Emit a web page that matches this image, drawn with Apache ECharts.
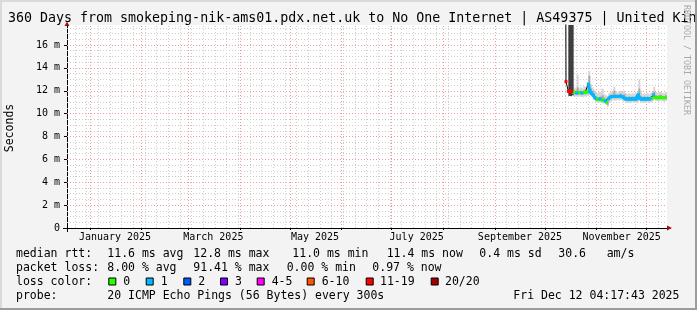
<!DOCTYPE html>
<html><head><meta charset="utf-8">
<script src="https://cdn.jsdelivr.net/npm/echarts@6/dist/echarts.min.js"></script>
<style>html,body{margin:0;padding:0;background:#f3f3f3}#c{width:697px;height:310px}</style>
</head><body><div id="c"></div>
<script>
// x values are days since 2025-01-01 (UTC)
const xMin = -13.8, xMax = 346.2;
const yMax = 17.75;
const monthStartDays = [0, 31, 59, 90, 120, 151, 181, 212, 243, 273, 304, 334];
const monthLabelDays = [15, 74, 135, 196, 258, 319];
const monthLabelNames = ['January 2025', 'March 2025', 'May 2025', 'July 2025', 'September 2025', 'November 2025'];
const yTickValues = [0, 2, 4, 6, 8, 10, 12, 14, 16];
const yTickLabels = ['0', '2 m', '4 m', '6 m', '8 m', '10 m', '12 m', '14 m', '16 m'];

// median rtt (ms) and loss colour index (-1 = no colour)
const medianDays = [285.3, 285.6, 286.3, 287, 288, 289, 290, 291, 292, 293, 294, 295, 296, 297, 298, 299, 300, 301, 302, 303, 304, 305, 306, 307, 308, 309, 310, 311, 312, 313, 314, 315, 316, 317, 318, 319, 320, 321, 322, 323, 324, 325, 326, 327, 328, 329, 330, 331, 332, 333, 334, 335, 336, 337, 338, 339, 340, 341, 342, 343, 344, 345];
const medianMs = [30, 12.8, 12.8, 11.95, 12.0, 11.9, 11.85, 11.85, 11.8, 11.85, 11.85, 11.8, 11.85, 11.85, 11.9, 12.6, 11.9, 11.8, 11.6, 11.35, 11.25, 11.25, 11.3, 11.2, 11.2, 11.1, 11.0, 11.3, 11.45, 11.5, 11.5, 11.5, 11.5, 11.5, 11.55, 11.5, 11.45, 11.3, 11.28, 11.28, 11.28, 11.3, 11.28, 11.28, 11.3, 11.65, 11.3, 11.28, 11.28, 11.28, 11.3, 11.28, 11.3, 11.35, 11.65, 11.4, 11.4, 11.4, 11.45, 11.4, 11.4, 11.4];
const medianLoss = [-1, 6, -1, 6, 6, 6, 0, 0, 1, 0, 0, 1, 0, 0, 0, 1, 1, 1, 1, 1, 0, 0, 1, 0, 0, 1, 0, 1, 1, 1, 1, 1, 1, 1, 1, 1, 1, 1, 1, 1, 1, 1, 1, 1, 1, 1, 1, 1, 1, 1, 1, 1, 1, 0, 1, 0, 0, 0, 0, 0, 0, 0];

// smoke (ping spread) per day
const smokeDays = [290, 291, 292, 293, 294, 295, 296, 297, 298, 299, 300, 301, 302, 303, 304, 305, 306, 307, 308, 309, 310, 311, 312, 313, 314, 315, 316, 317, 318, 319, 320, 321, 322, 323, 324, 325, 326, 327, 328, 329, 330, 331, 332, 333, 334, 335, 336, 337, 338, 339, 340, 341, 342, 343, 344, 345];
const smokeOuterLo = [11.5, 11.5, 11.45, 11.5, 11.5, 11.45, 11.5, 11.5, 11.55, 11.6, 11.55, 11.45, 11.3, 11.05, 10.95, 10.95, 11.0, 10.9, 10.9, 10.8, 10.6, 10.95, 11.1, 11.15, 11.15, 11.15, 11.2, 11.15, 11.2, 11.15, 11.1, 11.0, 10.95, 10.95, 10.95, 11.0, 10.95, 10.95, 11.0, 11.25, 11.0, 10.95, 10.95, 10.95, 11.0, 10.95, 11.0, 11.05, 11.3, 11.1, 11.1, 11.1, 11.1, 11.1, 11.05, 11.1];
const smokeOuterHi = [12.3, 12.2, 13.4, 12.2, 12.3, 12.2, 12.4, 12.3, 12.5, 13.7, 12.6, 12.3, 12.1, 11.9, 11.8, 11.9, 11.8, 12.2, 11.7, 11.6, 11.5, 11.8, 11.9, 12.0, 12.35, 12.0, 11.9, 11.9, 12.0, 11.9, 12.0, 11.8, 11.7, 11.8, 11.7, 11.8, 11.7, 11.8, 11.9, 13.0, 12.0, 11.7, 11.8, 11.7, 11.8, 11.7, 11.8, 11.9, 12.35, 11.9, 11.8, 11.9, 11.9, 11.8, 11.8, 11.9];
const smokeInnerLo = [11.7, 11.7, 11.65, 11.7, 11.7, 11.65, 11.7, 11.7, 11.75, 11.9, 11.75, 11.65, 11.45, 11.2, 11.1, 11.1, 11.15, 11.05, 11.05, 10.95, 10.75, 11.15, 11.3, 11.35, 11.35, 11.35, 11.35, 11.35, 11.4, 11.35, 11.3, 11.15, 11.1, 11.1, 11.1, 11.15, 11.1, 11.1, 11.15, 11.45, 11.15, 11.1, 11.1, 11.1, 11.15, 11.1, 11.15, 11.2, 11.45, 11.25, 11.25, 11.25, 11.3, 11.25, 11.25, 11.25];
const smokeInnerHi = [12.0, 12.0, 12.3, 12.0, 12.0, 11.95, 12.05, 12.0, 12.1, 13.3, 12.2, 12.0, 11.8, 11.55, 11.45, 11.45, 11.5, 11.6, 11.4, 11.3, 11.15, 11.5, 11.65, 11.7, 12.0, 11.7, 11.65, 11.65, 11.75, 11.65, 11.7, 11.5, 11.45, 11.5, 11.45, 11.5, 11.45, 11.5, 11.55, 12.2, 11.55, 11.45, 11.5, 11.45, 11.5, 11.45, 11.5, 11.55, 11.95, 11.6, 11.55, 11.6, 11.65, 11.55, 11.55, 11.6];
// very wide spread while loss was high
const heavySmokeDays = [287, 288, 289];
const heavySmokeLo = [11.55, 11.55, 11.6];
const heavySmokeHi = [30, 30, 30];

const lossLabels = ['0', '1', '2', '3', '4-5', '6-10', '11-19', '20/20'];
const lossColors = ['#26ff00', '#00b8ff', '#0059ff', '#7e00ff', '#ff00ff', '#ff5500', '#ff0000', '#a10000'];

const titleText = '360 Days from smokeping-nik-ams01.pdx.net.uk to No One Internet | AS49375 | United Kingdom';
const statsRtt = ['median rtt:', '11.6 ms avg', '12.8 ms max', '11.0 ms min', '11.4 ms now', '0.4 ms sd', '30.6', 'am/s'];
const statsLoss = ['packet loss:', '8.00 % avg', '91.41 % max', '0.00 % min', '0.97 % now'];
const probeText = ['probe:', '20 ICMP Echo Pings (56 Bytes) every 300s', 'Fri Dec 12 04:17:43 2025'];

// ---- layout ----
const mono = '"DejaVu Sans Mono", monospace';
const rttX = [16, 107.3, 193.3, 292.3, 386.7, 479.3, 558.3, 606.7];
const lossX = [16, 107.3, 193.3, 286.7, 372.3];
const probeX = [16, 107.3, 513.3];
const boxX = [108.3, 145.7, 183.3, 220, 256.7, 306.7, 365.7, 430.7];
const boxLabelX = [123.3, 160.7, 198.3, 235, 271.7, 321.7, 380, 445];
const rowY = [254, 268, 282, 296.5];

const weekDays = []; for (let d = -9; d <= xMax; d += 7) weekDays.push(d);
const minorY = []; for (let v = 0.5; v < yMax; v += 0.5) if (Math.abs(v % 2) > 1e-9) minorY.push(v);
const majorY = yTickValues.filter(v => v > 0);

function smokeRender(color) {
  return function (params, api) {
    const d = api.value(0), lo = api.value(1), hi = Math.min(api.value(2), yMax);
    const p1 = api.coord([d, hi]);
    const p2 = api.coord([d + 1, lo]);
    return { type: 'rect', shape: { x: p1[0], y: p1[1], width: p2[0] - p1[0] + 0.3, height: p2[1] - p1[1] }, style: { fill: color } };
  };
}
function smokeSeries(days, lo, hi, color, z) {
  return {
    type: 'custom', z: z, silent: true, animation: false,
    renderItem: smokeRender(color), encode: { x: 0, y: [1, 2] },
    data: days.map((d, i) => [d, lo[i], hi[i]])
  };
}

const gridLine = (color, type, data, z) => ({
  type: 'line', data: [], z: z, silent: true, animation: false,
  markLine: {
    z: z, silent: true, animation: false, symbol: ['none', 'none'], label: { show: false },
    emphasis: { disabled: true }, lineStyle: { color: color, type: type, width: 1 }, data: data
  }
});

const series = [
  gridLine('#cdcdcd', [1, 2], [...weekDays.map(d => ({ xAxis: d })), ...minorY.map(v => ({ yAxis: v }))], 1),
  gridLine('#f29c9c', [1, 2], [...monthStartDays.map(d => ({ xAxis: d })), ...majorY.map(v => ({ yAxis: v }))], 1),
  smokeSeries(smokeDays, smokeOuterLo, smokeOuterHi, '#d6d6d6', 2),
  smokeSeries(smokeDays, smokeInnerLo, smokeInnerHi, '#a9a9a9', 2),
  smokeSeries(heavySmokeDays, heavySmokeLo, heavySmokeHi, '#3d3d3d', 2),
  {
    type: 'line', z: 3, silent: true, animation: false, showSymbol: false,
    lineStyle: { color: '#000', width: 1 },
    data: medianDays.map((d, i) => [d, medianMs[i]])
  }
];
lossColors.forEach((c, k) => {
  if (!medianLoss.includes(k)) return;
  series.push({
    type: 'line', z: 4, silent: true, animation: false,
    showSymbol: true, symbol: 'rect', symbolSize: [3, 3],
    itemStyle: { color: c, borderWidth: 0 },
    lineStyle: { color: c, width: 3 },
    data: medianDays.map((d, i) => [d, medianLoss[i] === k ? medianMs[i] : '-'])
  });
});

const chart = echarts.init(document.getElementById('c'), null, { renderer: 'canvas' });
chart.setOption({
  backgroundColor: '#f3f3f3',
  animation: false,
  grid: { left: 67, top: 25, width: 600, height: 203, show: true, backgroundColor: '#ffffff', borderWidth: 0 },
  xAxis: {
    type: 'value', min: xMin, max: xMax,
    axisLine: { show: true, onZero: false, lineStyle: { color: '#000', width: 1 } },
    axisTick: { show: true, length: 2, customValues: monthStartDays, lineStyle: { color: '#000' } },
    axisLabel: {
      customValues: monthLabelDays, margin: 4, color: '#000', fontFamily: mono, fontSize: 10,
      formatter: v => { const i = monthLabelDays.indexOf(v); return i >= 0 ? monthLabelNames[i] : ''; }
    },
    splitLine: { show: false }
  },
  yAxis: {
    type: 'value', min: 0, max: yMax, interval: 2,
    axisLine: { show: true, onZero: false, lineStyle: { color: '#000', width: 1 } },
    axisTick: { show: true, length: 3, customValues: yTickValues, lineStyle: { color: '#000' } },
    axisLabel: {
      customValues: yTickValues, margin: 7, color: '#000', fontFamily: mono, fontSize: 10,
      formatter: v => { const i = yTickValues.indexOf(v); return i >= 0 ? yTickLabels[i] : ''; }
    },
    splitLine: { show: false }
  },
  series: series
});

// decorations
const origin = chart.convertToPixel({ gridIndex: 0 }, [xMin, 0]);
const corner = chart.convertToPixel({ gridIndex: 0 }, [xMax, yMax]);
const arrowColor = '#9b1010';
const textEl = (text, x, y, size, extra) => ({
  type: 'text', x: x, y: y, z: 50, silent: true,
  style: Object.assign({ text: text, fill: '#000', font: size + 'px ' + mono, verticalAlign: 'middle', align: 'left' }, extra || {})
});
const g = [];
g.push(textEl(titleText, 8, 18.5, 13.3));
g.push(Object.assign(textEl('Seconds', 10.5, 128, 11.5, { align: 'center' }), { rotation: Math.PI / 2 }));
g.push(Object.assign(textEl('RRDTOOL / TOBI OETIKER', 686.5, 60, 8.3, { align: 'center', fill: '#a8a8a8' }), { rotation: -Math.PI / 2 }));
statsRtt.forEach((t, i) => g.push(textEl(t, rttX[i], rowY[0], 11.5)));
statsLoss.forEach((t, i) => g.push(textEl(t, lossX[i], rowY[1], 11.5)));
g.push(textEl('loss color:', 16, rowY[2], 11.5));
lossLabels.forEach((t, i) => {
  g.push({ type: 'rect', z: 50, silent: true, shape: { x: boxX[i] + 0.5, y: rowY[2] - 4, width: 7, height: 7 }, style: { fill: lossColors[i], stroke: '#000', lineWidth: 1 } });
  g.push(textEl(t, boxLabelX[i], rowY[2], 11.5));
});
probeText.forEach((t, i) => g.push(textEl(t, probeX[i], rowY[3], 11.5)));
// axis stubs beyond origin and arrows
g.push({ type: 'line', z: 60, silent: true, shape: { x1: origin[0] - 4, y1: origin[1] + 0.5, x2: origin[0], y2: origin[1] + 0.5 }, style: { stroke: '#000', lineWidth: 1 } });
g.push({ type: 'line', z: 60, silent: true, shape: { x1: origin[0] + 0.5, y1: origin[1], x2: origin[0] + 0.5, y2: origin[1] + 4 }, style: { stroke: '#000', lineWidth: 1 } });
g.push({ type: 'polygon', z: 60, silent: true, shape: { points: [[corner[0], origin[1] - 2.5], [corner[0] + 5, origin[1]], [corner[0], origin[1] + 2.5]] }, style: { fill: arrowColor } });
g.push({ type: 'polygon', z: 60, silent: true, shape: { points: [[origin[0] - 2.5, corner[1] + 1], [origin[0], corner[1] - 3.5], [origin[0] + 2.5, corner[1] + 1]] }, style: { fill: arrowColor } });
// frame
g.push({ type: 'rect', z: 100, silent: true, shape: { x: 0, y: 0, width: 697, height: 2 }, style: { fill: '#dadada' } });
g.push({ type: 'rect', z: 100, silent: true, shape: { x: 0, y: 0, width: 2, height: 310 }, style: { fill: '#dadada' } });
g.push({ type: 'rect', z: 100, silent: true, shape: { x: 695, y: 0, width: 2, height: 310 }, style: { fill: '#9c9c9c' } });
g.push({ type: 'rect', z: 100, silent: true, shape: { x: 0, y: 308, width: 697, height: 2 }, style: { fill: '#9c9c9c' } });
chart.setOption({ graphic: g });
</script>
</body></html>
